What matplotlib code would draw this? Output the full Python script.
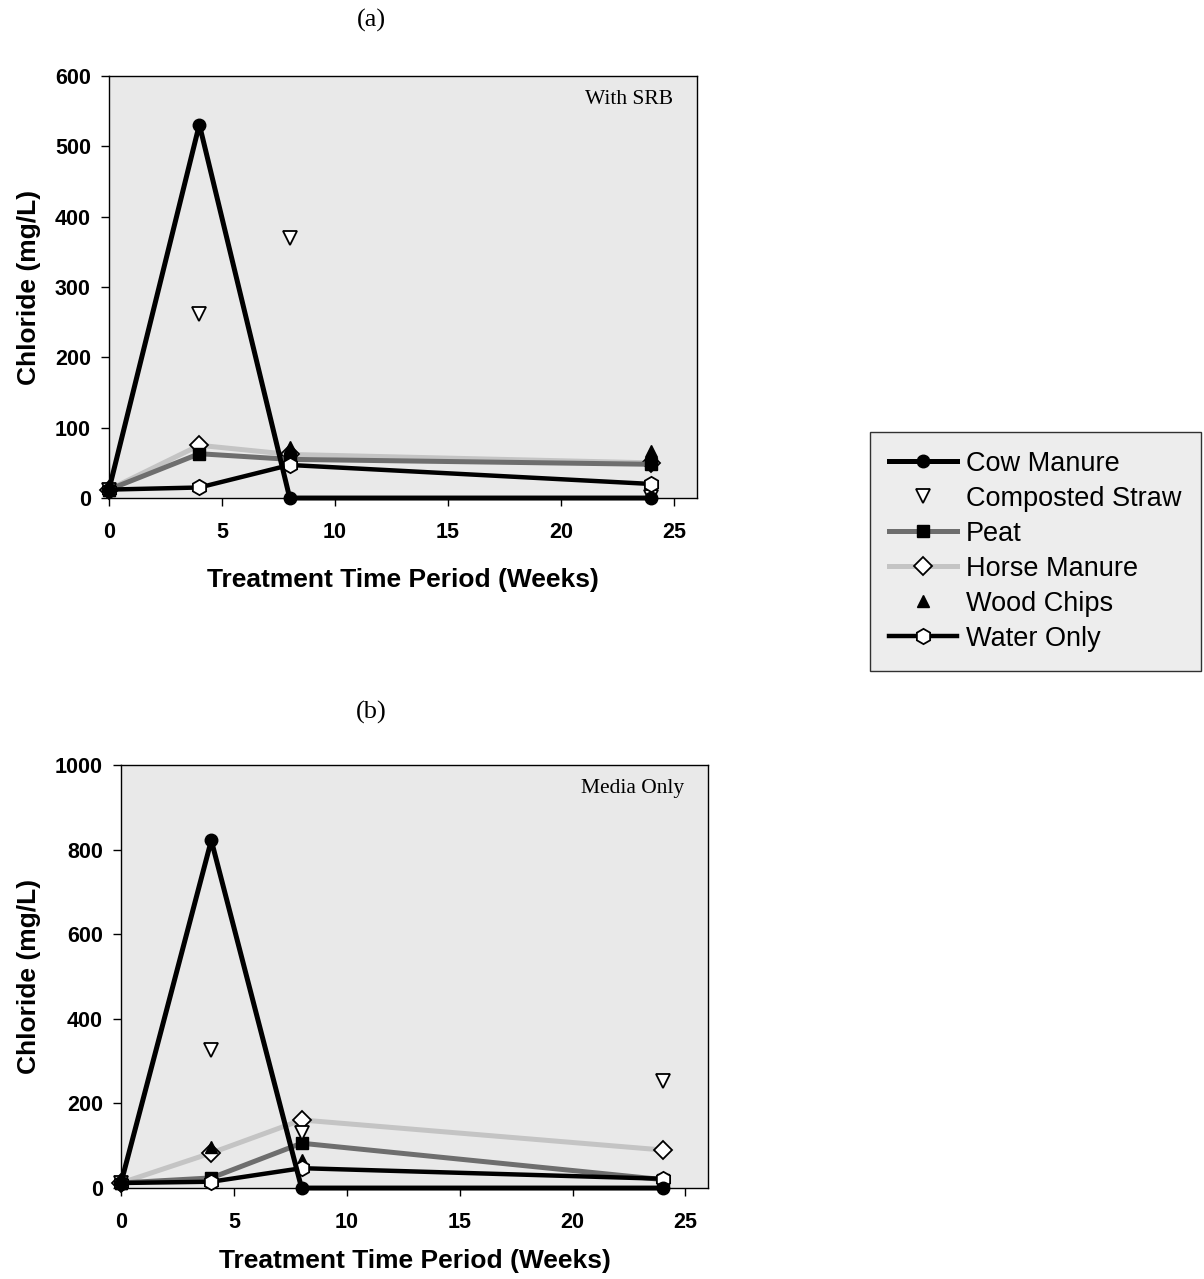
import matplotlib.pyplot as plt
from matplotlib.lines import Line2D

weeks = [0, 4, 8, 24]

# panel (a) - with SRB
cow_a = [12, 531, 0, 0]
straw_a = [12, 262, 370, 1]
peat_a = [12, 63, 55, 48]
horse_a = [12, 75, 62, 50]
wood_a = [12, 18, 72, 67]
water_a = [12, 15, 47, 20]

# panel (b) - media only
cow_b = [12, 822, 0, 0]
straw_b = [12, 326, 130, 253]
peat_b = [12, 24, 106, 20]
horse_b = [12, 83, 161, 90]
wood_b = [12, 97, 66, 14]
water_b = [12, 15, 47, 22]

names = ["Cow Manure", "Composted Straw", "Peat", "Horse Manure", "Wood Chips", "Water Only"]

styles = {
    "Cow Manure": dict(color="black", lw=3.6, marker="o", ms=9, mfc="black", mec="black", zorder=6),
    "Composted Straw": dict(color="none", lw=0, marker="v", ms=10, mfc="white", mec="black", mew=1.3, zorder=5),
    "Peat": dict(color="#6e6e6e", lw=3.6, marker="s", ms=8, mfc="black", mec="black", zorder=3),
    "Horse Manure": dict(color="#c4c4c4", lw=3.6, marker="D", ms=9, mfc="white", mec="black", mew=1.3, zorder=2),
    "Wood Chips": dict(color="none", lw=0, marker="^", ms=9, mfc="black", mec="black", zorder=4),
    "Water Only": dict(color="black", lw=3.2, marker="h", ms=11, mfc="white", mec="black", mew=1.3, zorder=5),
}

bg = "#e9e9e9"
fig = plt.figure(figsize=(12.04, 12.79), dpi=100)

def panel(rect, data, ymax, ystep, note, xpad):
    ax = fig.add_axes(rect)
    ax.set_facecolor(bg)
    for name, vals in zip(names, data):
        ax.plot(weeks, vals, clip_on=False, **styles[name])
    ax.set_xlim(0, 26)
    ax.set_ylim(0, ymax)
    ax.set_xticks(range(0, 26, 5))
    ax.set_yticks(range(0, ymax + 1, ystep))
    ax.tick_params(direction="out", length=6, width=1, labelsize=15.5, pad=7)
    ax.tick_params(axis="x", pad=11)
    for lab in ax.get_xticklabels() + ax.get_yticklabels():
        lab.set_fontweight("bold")
        lab.set_family("Liberation Sans")
    ax.set_xlabel("Treatment Time Period (Weeks)", fontsize=19, fontweight="bold",
                  family="Liberation Sans", labelpad=xpad)
    ax.set_ylabel("Chloride (mg/L)", fontsize=19, fontweight="bold",
                  family="Liberation Sans", labelpad=10)
    for s in ax.spines.values():
        s.set_linewidth(1.0)
    ax.text(0.96, 0.945, note, transform=ax.transAxes, ha="right", va="center",
            fontsize=15.5, family="Liberation Serif")
    return ax

panel([0.0905, 0.6106, 0.488, 0.33],
      [cow_a, straw_a, peat_a, horse_a, wood_a, water_a], 600, 100, "With SRB", 18)
panel([0.1005, 0.0711, 0.4875, 0.3307],
      [cow_b, straw_b, peat_b, horse_b, wood_b, water_b], 1000, 200, "Media Only", 12)

fig.text(371 / 1204, 1 - 20 / 1279, "(a)", ha="center", va="center",
         fontsize=19, family="Liberation Serif")
fig.text(371 / 1204, 1 - 712 / 1279, "(b)", ha="center", va="center",
         fontsize=19, family="Liberation Serif")

handles = [Line2D([], [], **{k: v for k, v in styles[n].items() if k != "zorder"}) for n in names]
leg = fig.legend(handles, names, loc="upper left", bbox_to_anchor=(870 / 1204, 1 - 432 / 1279),
                 prop={"family": "Liberation Sans", "size": 19.5}, frameon=True,
                 fancybox=False, handlelength=2.5, labelspacing=0.33,
                 borderpad=0.7, handletextpad=0.35, borderaxespad=0)
leg.get_frame().set_facecolor(bg)
leg.get_frame().set_edgecolor("black")
leg.get_frame().set_linewidth(1.0)

fig.savefig("out.png", dpi=100, facecolor="white")
